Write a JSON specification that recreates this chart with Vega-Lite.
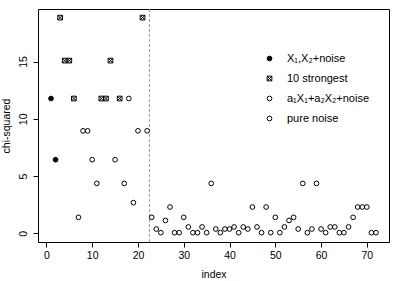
{
  "$schema": "https://vega.github.io/schema/vega-lite/v6.json",
  "width": 351,
  "height": 233,
  "autosize": {"type": "none"},
  "padding": {"left": 38, "top": 9, "right": 10, "bottom": 39},
  "background": "white",
  "config": {
    "font": "Liberation Sans",
    "view": {"stroke": "black", "strokeWidth": 1}
  },
  "datasets": {
    "pts": [
      {"index": 1, "chisq": 11.77, "group": "X₁,X₂+noise"},
      {"index": 2, "chisq": 6.43, "group": "X₁,X₂+noise"},
      {"index": 3, "chisq": 18.83, "group": "10 strongest"},
      {"index": 4, "chisq": 15.08, "group": "10 strongest"},
      {"index": 5, "chisq": 15.08, "group": "10 strongest"},
      {"index": 6, "chisq": 11.77, "group": "10 strongest"},
      {"index": 7, "chisq": 1.40, "group": "a₁X₁+a₂X₂+noise"},
      {"index": 8, "chisq": 8.95, "group": "a₁X₁+a₂X₂+noise"},
      {"index": 9, "chisq": 8.95, "group": "a₁X₁+a₂X₂+noise"},
      {"index": 10, "chisq": 6.43, "group": "a₁X₁+a₂X₂+noise"},
      {"index": 11, "chisq": 4.36, "group": "a₁X₁+a₂X₂+noise"},
      {"index": 12, "chisq": 11.77, "group": "10 strongest"},
      {"index": 13, "chisq": 11.77, "group": "10 strongest"},
      {"index": 14, "chisq": 15.08, "group": "10 strongest"},
      {"index": 15, "chisq": 6.43, "group": "a₁X₁+a₂X₂+noise"},
      {"index": 16, "chisq": 11.77, "group": "10 strongest"},
      {"index": 17, "chisq": 4.36, "group": "a₁X₁+a₂X₂+noise"},
      {"index": 18, "chisq": 11.77, "group": "a₁X₁+a₂X₂+noise"},
      {"index": 19, "chisq": 2.68, "group": "a₁X₁+a₂X₂+noise"},
      {"index": 20, "chisq": 8.95, "group": "a₁X₁+a₂X₂+noise"},
      {"index": 21, "chisq": 18.83, "group": "10 strongest"},
      {"index": 22, "chisq": 8.95, "group": "a₁X₁+a₂X₂+noise"},
      {"index": 23, "chisq": 1.40, "group": "pure noise"},
      {"index": 24, "chisq": 0.38, "group": "pure noise"},
      {"index": 25, "chisq": 0.06, "group": "pure noise"},
      {"index": 26, "chisq": 1.13, "group": "pure noise"},
      {"index": 27, "chisq": 2.30, "group": "pure noise"},
      {"index": 28, "chisq": 0.06, "group": "pure noise"},
      {"index": 29, "chisq": 0.06, "group": "pure noise"},
      {"index": 30, "chisq": 1.40, "group": "pure noise"},
      {"index": 31, "chisq": 0.56, "group": "pure noise"},
      {"index": 32, "chisq": 0.06, "group": "pure noise"},
      {"index": 33, "chisq": 0.06, "group": "pure noise"},
      {"index": 34, "chisq": 0.56, "group": "pure noise"},
      {"index": 35, "chisq": 0.06, "group": "pure noise"},
      {"index": 36, "chisq": 4.36, "group": "pure noise"},
      {"index": 37, "chisq": 0.38, "group": "pure noise"},
      {"index": 38, "chisq": 0.06, "group": "pure noise"},
      {"index": 39, "chisq": 0.38, "group": "pure noise"},
      {"index": 40, "chisq": 0.38, "group": "pure noise"},
      {"index": 41, "chisq": 0.56, "group": "pure noise"},
      {"index": 42, "chisq": 0.06, "group": "pure noise"},
      {"index": 43, "chisq": 0.56, "group": "pure noise"},
      {"index": 44, "chisq": 0.38, "group": "pure noise"},
      {"index": 45, "chisq": 2.30, "group": "pure noise"},
      {"index": 46, "chisq": 0.56, "group": "pure noise"},
      {"index": 47, "chisq": 0.06, "group": "pure noise"},
      {"index": 48, "chisq": 2.30, "group": "pure noise"},
      {"index": 49, "chisq": 0.06, "group": "pure noise"},
      {"index": 50, "chisq": 1.40, "group": "pure noise"},
      {"index": 51, "chisq": 0.06, "group": "pure noise"},
      {"index": 52, "chisq": 0.56, "group": "pure noise"},
      {"index": 53, "chisq": 1.13, "group": "pure noise"},
      {"index": 54, "chisq": 1.40, "group": "pure noise"},
      {"index": 55, "chisq": 0.38, "group": "pure noise"},
      {"index": 56, "chisq": 4.36, "group": "pure noise"},
      {"index": 57, "chisq": 0.06, "group": "pure noise"},
      {"index": 58, "chisq": 0.38, "group": "pure noise"},
      {"index": 59, "chisq": 4.36, "group": "pure noise"},
      {"index": 60, "chisq": 0.38, "group": "pure noise"},
      {"index": 61, "chisq": 0.06, "group": "pure noise"},
      {"index": 62, "chisq": 0.56, "group": "pure noise"},
      {"index": 63, "chisq": 0.56, "group": "pure noise"},
      {"index": 64, "chisq": 0.06, "group": "pure noise"},
      {"index": 65, "chisq": 0.06, "group": "pure noise"},
      {"index": 66, "chisq": 0.56, "group": "pure noise"},
      {"index": 67, "chisq": 1.40, "group": "pure noise"},
      {"index": 68, "chisq": 2.30, "group": "pure noise"},
      {"index": 69, "chisq": 2.30, "group": "pure noise"},
      {"index": 70, "chisq": 2.30, "group": "pure noise"},
      {"index": 71, "chisq": 0.06, "group": "pure noise"},
      {"index": 72, "chisq": 0.06, "group": "pure noise"}
    ]
  },
  "layer": [
    {
      "data": {"values": [{"cut": 22.5}]},
      "mark": {"type": "rule", "stroke": "#9a9a9a", "strokeDash": [3, 2], "strokeWidth": 1},
      "encoding": {
        "x": {"field": "cut", "type": "quantitative", "scale": {"domain": [-1.84, 74.84], "nice": false, "zero": false}}
      }
    },
    {
      "data": {"name": "pts"},
      "mark": {"type": "point", "stroke": "black", "strokeWidth": 1, "opacity": 1, "strokeOpacity": 1, "fillOpacity": 1},
      "encoding": {
        "x": {
          "field": "index", "type": "quantitative",
          "scale": {"domain": [-1.84, 74.84], "nice": false, "zero": false},
          "axis": {
            "values": [0, 10, 20, 30, 40, 50, 60, 70],
            "domain": false, "grid": false, "tickSize": 5, "tickColor": "black",
            "labelFontSize": 10.5, "labelColor": "black", "labelPadding": 3,
            "labelFlush": false, "labelOverlap": false,
            "title": "index", "titleFontSize": 10.5, "titleFontWeight": "normal",
            "titleColor": "black", "titlePadding": 9
          }
        },
        "y": {
          "field": "chisq", "type": "quantitative",
          "scale": {"domain": [-0.753, 19.583], "nice": false, "zero": false},
          "axis": {
            "values": [0, 5, 10, 15],
            "domain": false, "grid": false, "tickSize": 5, "tickColor": "black",
            "labelFontSize": 10.5, "labelColor": "black", "labelAngle": 270,
            "labelAlign": "center", "labelBaseline": "bottom", "labelPadding": 5,
            "labelFlush": false, "labelOverlap": false,
            "title": "chi-squared", "titleFontSize": 10.5, "titleFontWeight": "normal",
            "titleColor": "black", "titlePadding": 7
          }
        },
        "shape": {
          "field": "group", "type": "nominal", "title": null,
          "scale": {
            "domain": ["X₁,X₂+noise", "10 strongest", "a₁X₁+a₂X₂+noise", "pure noise"],
            "range": ["circle", "M-1,-1H1V1H-1Z M-1,-1L1,1 M-1,1L1,-1", "circle", "circle"]
          },
          "legend": {
            "orient": "none", "legendX": 226, "legendY": 44, "padding": 0,
            "labelFontSize": 11, "labelColor": "black", "labelOffset": 12,
            "rowPadding": 8, "symbolStrokeColor": "black", "symbolStrokeWidth": 1,
            "encode": {"symbols": {"update": {"size": {"scale": "size", "field": "value"}}}}
          }
        },
        "size": {
          "field": "group", "type": "nominal", "title": null,
          "scale": {
            "domain": ["X₁,X₂+noise", "10 strongest", "a₁X₁+a₂X₂+noise", "pure noise"],
            "range": [22, 22, 28, 12]
          }
        },
        "fill": {
          "field": "group", "type": "nominal", "title": null,
          "scale": {
            "domain": ["X₁,X₂+noise", "10 strongest", "a₁X₁+a₂X₂+noise", "pure noise"],
            "range": ["black", "transparent", "transparent", "transparent"]
          }
        }
      }
    }
  ]
}
